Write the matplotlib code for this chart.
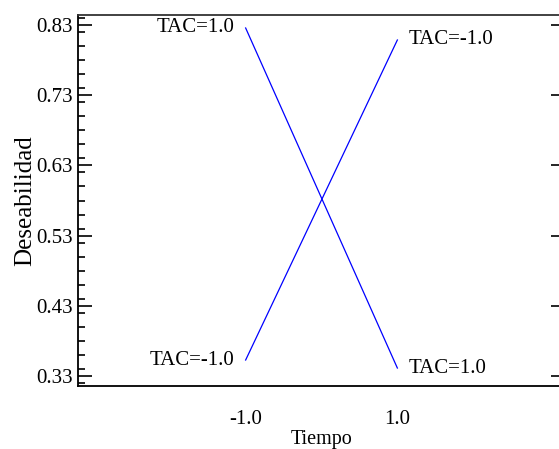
import numpy as np
import matplotlib
matplotlib.use('Agg')
from matplotlib import pyplot as plt
from matplotlib.ticker import MultipleLocator

# data
tiempo = [-1.0, 1.0]
tac_pos = [0.8257, 0.3414]   # TAC=1.0
tac_neg = [0.3528, 0.8086]   # TAC=-1.0
yticks = [0.33, 0.43, 0.53, 0.63, 0.73, 0.83]
xticks = [-1.0, 1.0]

plt.rcParams['font.family'] = ['Liberation Serif', 'DejaVu Serif']

fig = plt.figure(figsize=(5.59, 4.49), dpi=100)
ax = fig.add_axes([78 / 559, 1 - 386 / 449, 487 / 559, 371 / 449])

ax.plot(tiempo, tac_pos, color='#0000ff', lw=0.9)
ax.plot(tiempo, tac_neg, color='#0000ff', lw=0.9)

off = 0.15
fs = 15
ax.text(tiempo[0] - off, tac_pos[0], 'TAC=1.0', ha='right', va='center', fontsize=fs)
ax.text(tiempo[1] + off, tac_pos[1], 'TAC=1.0', ha='left', va='center', fontsize=fs)
ax.text(tiempo[0] - off, tac_neg[0], 'TAC=-1.0', ha='right', va='center', fontsize=fs)
ax.text(tiempo[1] + off, tac_neg[1], 'TAC=-1.0', ha='left', va='center', fontsize=fs)

ax.set_xlim(-3.21, 3.21)
ax.set_ylim(0.3158, 0.8442)

ax.set_yticks(yticks)
ax.set_yticklabels(['{:.2f}'.format(v) for v in yticks])
ax.yaxis.set_minor_locator(MultipleLocator(0.02))
ax.set_xticks(xticks)
ax.set_xticklabels(['{:.1f}'.format(v) for v in xticks])

ax.tick_params(axis='y', which='major', direction='in', length=10, width=1.2,
               labelsize=fs, right=True, pad=4)
ax.tick_params(axis='y', which='minor', direction='in', length=5, width=1.2, right=False)
ax.tick_params(axis='x', length=0, labelsize=fs, pad=17)

for s in ['left', 'top', 'bottom']:
    ax.spines[s].set_linewidth(1.3)
ax.spines['top'].set_color('#333333')
ax.spines['right'].set_visible(False)

ax.set_ylabel('Deseabilidad', fontsize=18, labelpad=0)
ax.set_xlabel('Tiempo', fontsize=14.5, labelpad=1)

plt.savefig('out.png', dpi=100)
